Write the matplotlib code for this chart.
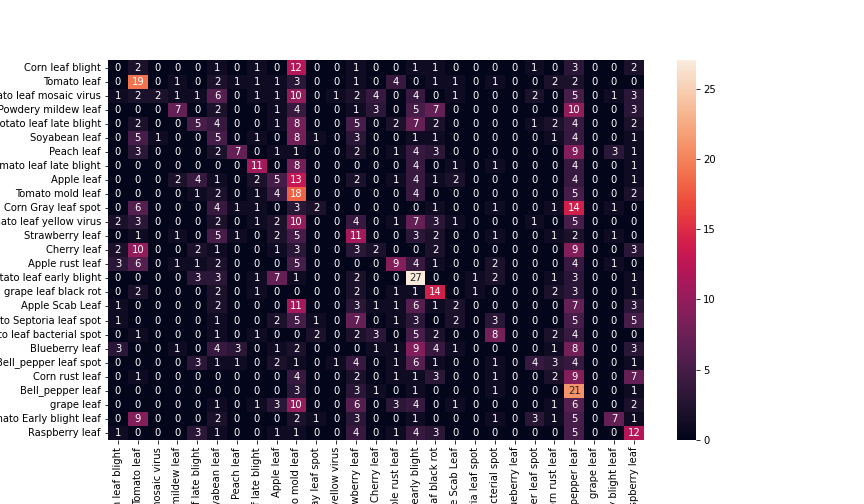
import numpy as np
import matplotlib
matplotlib.use("Agg")
import matplotlib.pyplot as plt
import seaborn as sns

classes = ['Corn leaf blight', 'Tomato leaf', 'Tomato leaf mosaic virus',
           'Squash Powdery mildew leaf', 'Potato leaf late blight', 'Soyabean leaf',
           'Peach leaf', 'Tomato leaf late blight', 'Apple leaf', 'Tomato mold leaf',
           'Corn Gray leaf spot', 'Tomato leaf yellow virus', 'Strawberry leaf',
           'Cherry leaf', 'Apple rust leaf', 'Potato leaf early blight',
           'grape leaf black rot', 'Apple Scab Leaf', 'Tomato Septoria leaf spot',
           'Tomato leaf bacterial spot', 'Blueberry leaf', 'Bell_pepper leaf spot',
           'Corn rust leaf', 'Bell_pepper leaf', 'grape leaf',
           'Tomato Early blight leaf', 'Raspberry leaf']

# linhas da matriz de confusao (real x previsto)
cm = [
    [0, 2, 0, 0, 0, 1, 0, 1, 0, 12, 0, 0, 1, 0, 0, 1, 1, 0, 0, 0, 0, 1, 0, 3, 0, 0, 2],
    [0, 19, 0, 1, 0, 2, 1, 1, 1, 3, 0, 0, 1, 0, 4, 0, 1, 1, 0, 1, 0, 0, 2, 2, 0, 0, 0],
    [1, 2, 2, 1, 1, 6, 0, 1, 1, 10, 0, 1, 2, 4, 0, 4, 0, 1, 0, 0, 0, 2, 0, 5, 0, 1, 3],
    [0, 0, 0, 7, 0, 2, 0, 0, 1, 4, 0, 0, 1, 3, 0, 5, 7, 0, 0, 0, 0, 0, 0, 10, 0, 0, 3],
    [0, 2, 0, 0, 5, 4, 0, 0, 1, 8, 0, 0, 5, 0, 2, 7, 2, 0, 0, 0, 0, 1, 2, 4, 0, 0, 2],
    [0, 5, 1, 0, 0, 5, 0, 1, 0, 8, 1, 0, 3, 0, 0, 1, 1, 0, 0, 0, 0, 0, 1, 4, 0, 0, 1],
    [0, 3, 0, 0, 0, 2, 7, 0, 1, 1, 0, 0, 2, 0, 1, 4, 3, 0, 0, 0, 0, 0, 0, 9, 0, 3, 1],
    [0, 0, 0, 0, 0, 0, 0, 11, 0, 8, 0, 0, 0, 0, 0, 4, 0, 1, 0, 1, 0, 0, 0, 4, 0, 0, 1],
    [0, 0, 0, 2, 4, 1, 0, 2, 5, 13, 0, 0, 2, 0, 1, 4, 1, 2, 0, 0, 0, 0, 0, 4, 0, 0, 1],
    [0, 0, 0, 0, 1, 2, 0, 1, 4, 18, 0, 0, 0, 0, 0, 4, 0, 0, 0, 0, 0, 0, 0, 5, 0, 0, 2],
    [0, 6, 0, 0, 0, 4, 1, 1, 0, 3, 2, 0, 0, 0, 0, 0, 1, 0, 0, 1, 0, 0, 1, 14, 0, 1, 0],
    [2, 3, 0, 0, 0, 2, 0, 1, 2, 10, 0, 0, 4, 0, 1, 7, 3, 1, 0, 0, 0, 1, 0, 5, 0, 0, 0],
    [0, 1, 0, 1, 0, 5, 1, 0, 2, 5, 0, 0, 11, 0, 0, 3, 2, 0, 0, 1, 0, 0, 1, 2, 0, 1, 0],
    [2, 10, 0, 0, 2, 1, 0, 0, 1, 3, 0, 0, 3, 2, 0, 0, 2, 0, 0, 0, 0, 0, 0, 9, 0, 0, 3],
    [3, 6, 0, 1, 1, 2, 0, 0, 0, 5, 0, 0, 0, 0, 9, 4, 1, 0, 0, 2, 0, 0, 0, 4, 0, 1, 0],
    [0, 0, 0, 0, 3, 3, 0, 1, 7, 1, 0, 0, 2, 0, 0, 27, 0, 0, 1, 2, 0, 0, 1, 3, 0, 0, 1],
    [0, 2, 0, 0, 0, 2, 0, 1, 0, 0, 0, 0, 2, 0, 1, 1, 14, 0, 1, 0, 0, 0, 2, 3, 0, 0, 1],
    [1, 0, 0, 0, 0, 2, 0, 0, 0, 11, 0, 0, 3, 1, 1, 6, 1, 2, 0, 0, 0, 0, 0, 7, 0, 0, 3],
    [1, 0, 0, 0, 0, 1, 0, 0, 2, 5, 1, 0, 7, 0, 1, 3, 0, 2, 0, 3, 0, 0, 0, 5, 0, 0, 5],
    [0, 1, 0, 0, 0, 1, 0, 1, 0, 0, 2, 0, 2, 3, 0, 5, 2, 0, 0, 8, 0, 0, 2, 4, 0, 0, 0],
    [3, 0, 0, 1, 0, 4, 3, 0, 1, 2, 0, 0, 0, 1, 1, 9, 4, 1, 0, 0, 0, 0, 1, 8, 0, 0, 3],
    [0, 0, 0, 0, 3, 1, 1, 0, 2, 1, 0, 1, 4, 0, 1, 6, 1, 0, 0, 1, 0, 4, 3, 4, 0, 0, 1],
    [0, 1, 0, 0, 0, 0, 0, 0, 0, 4, 0, 0, 2, 0, 1, 1, 3, 0, 0, 1, 0, 0, 2, 9, 0, 0, 7],
    [0, 0, 0, 0, 0, 0, 0, 0, 0, 3, 0, 0, 3, 1, 0, 1, 0, 0, 0, 1, 0, 0, 0, 21, 0, 0, 1],
    [0, 0, 0, 0, 0, 1, 0, 1, 3, 10, 0, 0, 6, 0, 3, 4, 0, 1, 0, 0, 0, 0, 1, 6, 0, 0, 2],
    [0, 9, 0, 0, 0, 2, 0, 0, 0, 2, 1, 0, 3, 0, 0, 1, 0, 0, 0, 1, 0, 3, 1, 5, 0, 7, 1],
    [1, 0, 0, 0, 3, 1, 0, 0, 1, 1, 0, 0, 4, 0, 1, 4, 3, 0, 0, 0, 0, 0, 0, 5, 0, 0, 12],
]

fig, ax = plt.subplots(figsize=(12, 7), dpi=72)
fig.subplots_adjust(bottom=0.127)
sns.heatmap(np.array(cm), annot=True, fmt='d', ax=ax,
            xticklabels=classes, yticklabels=classes)

plt.savefig('out.png', dpi=72)
